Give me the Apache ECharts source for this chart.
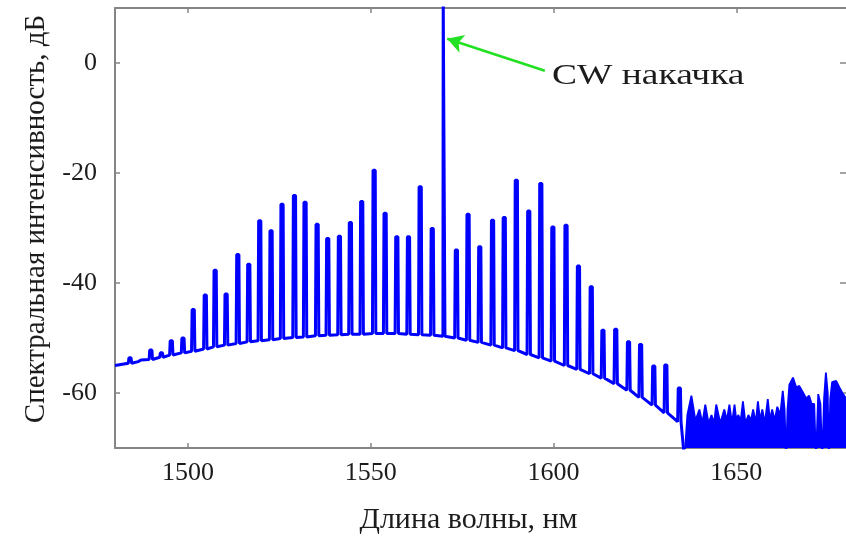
<!DOCTYPE html>
<html><head><meta charset="utf-8">
<script src="https://cdn.jsdelivr.net/npm/echarts@6/dist/echarts.min.js"></script>
<style>html,body{margin:0;padding:0;background:#fff}#c{width:846px;height:545px}</style>
</head><body><div id="c"></div>
<script>
// ---- data ----
const xTicks = [1500, 1550, 1600, 1650];
const yTicks = [-60, -40, -20, 0];
const xRange = [1480, 1680];
const yRange = [-70, 10];

// comb lines: wavelength (nm), peak level (dB), floor level under the line (dB)
const peakWl = [1484.1,1486.8,1489.8,1492.7,1495.4,1498.6,1501.4,1504.7,1507.4,1510.4,
  1513.6,1516.6,1519.6,1522.7,1525.7,1529.1,1532.0,1535.3,1538.2,1541.4,
  1544.4,1547.5,1550.9,1553.9,1557.1,1560.3,1563.5,1566.8,1570.0,1573.4,
  1576.6,1579.8,1583.3,1586.5,1589.8,1593.2,1596.5,1599.8,1603.4,1606.8,
  1610.3,1613.5,1617.0,1620.5,1623.8,1627.4,1630.7,1634.4];
const peakDb = [-53.6,-54.0,-52.2,-52.7,-50.5,-50.0,-44.8,-42.2,-37.7,-42.0,
  -34.8,-36.6,-28.7,-30.5,-25.7,-24.1,-25.3,-29.3,-31.9,-31.5,
  -29.0,-25.2,-19.5,-27.3,-31.6,-31.6,-22.5,-30.1,12,-34.0,
  -27.5,-33.4,-28.6,-28.1,-21.3,-26.9,-21.9,-29.8,-29.5,-36.9,
  -40.7,-48.6,-48.4,-50.7,-51.2,-55.1,-54.9,-59.1];
const floorDb = [-54.6,-54.3,-53.9,-53.5,-53.1,-52.7,-52.4,-52.0,-51.6,-51.3,
  -51.0,-50.7,-50.5,-50.3,-50.1,-49.9,-49.8,-49.6,-49.5,-49.4,
  -49.3,-49.3,-49.2,-49.2,-49.2,-49.3,-49.4,-49.5,-49.7,-50.0,
  -50.4,-50.8,-51.3,-51.8,-52.3,-53.0,-53.6,-54.2,-55.0,-55.7,
  -56.5,-57.3,-58.3,-59.5,-60.8,-62.2,-63.6,-65.2];
const startPoint = [1480, -55.0];
const dropPoint = [1635.8, -72];

// noise floor region (long-wavelength end)
const noiseWl = [1635.8,1636.6,1637.7,1638.8,1639.9,1640.7,1641.5,1642.4,1643.2,1643.9,1644.5,1645.6,1646.7,1647.4,1648.1,1648.8,1649.5,1650.0,1650.5,1651.2,1651.8,1652.5,1653.3,1654.0,1654.6,1655.3,1655.9,1656.5,1657.1,1657.8,1658.6,1659.2,1659.8,1660.5,1661.2,1662.0,1662.7,1663.2,1663.6,1664.0,1664.5,1665.5,1666.4,1667.2,1668.3,1669.1,1669.9,1670.6,1671.3,1671.8,1672.4,1673.0,1673.5,1674.0,1674.5,1675.0,1675.3,1675.7,1676.2,1677.3,1678.2,1679.0,1680.0];
const noiseDb = [-72,-64,-60.5,-65,-63,-65.5,-62.1,-65.5,-64,-65.5,-62.1,-65.5,-63,-65,-62.1,-65.5,-62.1,-65,-64,-65,-61.5,-65.5,-64,-65,-63,-65.5,-61.5,-65,-63,-65.5,-61.1,-65,-63,-65,-62.5,-64,-59.6,-63,-72,-63,-58.5,-57.2,-59,-58.7,-60,-61,-60.5,-62,-62,-72,-60.2,-62,-72,-61,-56.3,-60,-72,-61,-58,-57.8,-59,-60,-61];

// annotation
const arrowFrom = [1597.6, -1.4];
const arrowTo = [1570.9, 4.4];
const pumpText = 'CW накачка';
const xName = 'Длина волны, нм';
const yName = 'Спектральная интенсивность, дБ';

// ---- build trace ----
const trace = [startPoint];
peakWl.forEach((w, i) => {
  const pump = peakDb[i] > 0;
  const hw = pump ? 0.2 : 0.3, bw = pump ? 0.28 : 0.46;
  trace.push([w - bw, floorDb[i]], [w - hw, peakDb[i]], [w + hw, peakDb[i]], [w + bw, floorDb[i]]);
});
trace.push(dropPoint);
const noise = noiseWl.map((w, i) => [w, noiseDb[i]]);

const FONT = '"Liberation Serif", "Times New Roman", serif';
const AX = '#858585';
const TXT = '#1c1c1c';
const chart = echarts.init(document.getElementById('c'), null, {renderer: 'canvas'});
const axisCommon = {
  type: 'value', splitLine: {show: false},
  axisLine: {show: true, onZero: false, lineStyle: {color: AX, width: 2}},
};
const plain = v => String(v);
chart.setOption({
  animation: false,
  backgroundColor: '#fff',
  grid: {left: 115, top: 8, right: -3, bottom: 97, containLabel: false},
  xAxis: [
    Object.assign({}, axisCommon, {
      min: xRange[0], max: xRange[1], position: 'bottom',
      axisTick: {show: true, inside: true, length: 5, customValues: xTicks, lineStyle: {color: AX, width: 1.5}},
      axisLabel: {customValues: xTicks, formatter: plain, margin: 12, fontFamily: FONT, fontSize: 26, color: TXT},
      name: xName, nameLocation: 'middle', nameGap: 57,
      nameTextStyle: {fontFamily: FONT, fontSize: 30, color: TXT, padding: [0, 24, 0, 0]}
    }),
    Object.assign({}, axisCommon, {
      min: xRange[0], max: xRange[1], position: 'top',
      axisTick: {show: true, inside: true, length: 5, customValues: xTicks, lineStyle: {color: AX, width: 1.5}},
      axisLabel: {show: false}
    })
  ],
  yAxis: [
    Object.assign({}, axisCommon, {
      min: yRange[0], max: yRange[1], position: 'left',
      axisTick: {show: true, inside: true, length: 5, customValues: yTicks, lineStyle: {color: AX, width: 1.5}},
      axisLabel: {customValues: yTicks, formatter: plain, margin: 18, fontFamily: FONT, fontSize: 26, color: TXT},
      name: yName, nameLocation: 'middle', nameGap: 64, nameRotate: 90,
      nameTextStyle: {fontFamily: FONT, fontSize: 29, color: TXT, padding: [0, 0, 0, 18]}
    }),
    Object.assign({}, axisCommon, {
      min: yRange[0], max: yRange[1], position: 'right',
      axisLine: {show: false},
      axisTick: {show: true, inside: true, length: 6, customValues: yTicks, lineStyle: {color: AX, width: 1.5}},
      axisLabel: {show: false}
    })
  ],
  series: [
    {
      type: 'line', data: trace, showSymbol: false, symbol: 'none', clip: true,
      lineStyle: {color: '#0000ff', width: 3}, z: 3,
      markLine: {
        silent: true, symbol: ['none', 'arrow'], symbolSize: [14, 16], animation: false,
        lineStyle: {color: '#22e022', width: 2.5, type: 'solid'}, label: {show: false},
        data: [[{coord: arrowFrom}, {coord: arrowTo}]]
      }
    },
    {
      type: 'line', data: noise, showSymbol: false, symbol: 'none', clip: true,
      lineStyle: {color: '#0000ff', width: 1.8},
      areaStyle: {color: '#0000ff', opacity: 1, origin: 'start'}, z: 3
    }
  ],
  graphic: [{
    type: 'text', left: 552, top: 61, scaleX: 1.25, originX: 0,
    style: {text: pumpText, font: '30px ' + FONT, fill: TXT}
  }]
});
</script></body></html>
